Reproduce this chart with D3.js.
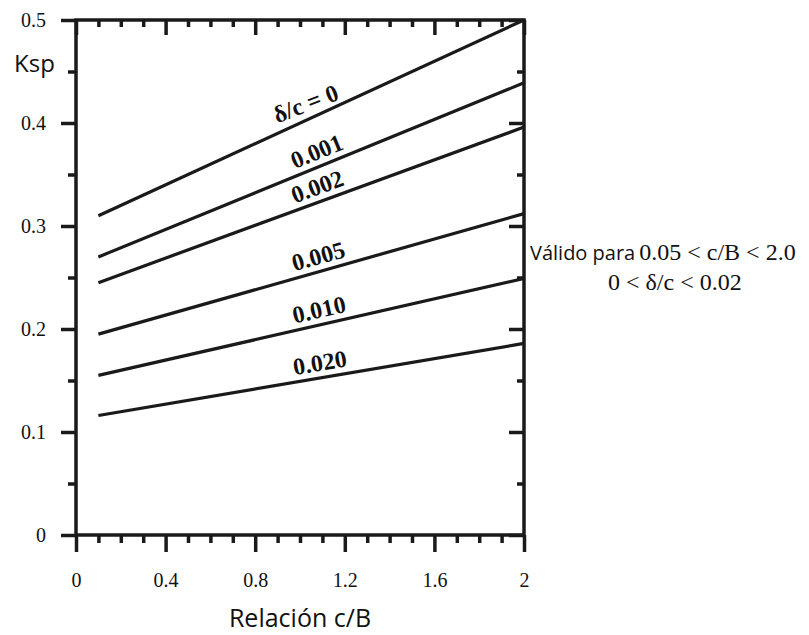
<!DOCTYPE html>
<html>
<head>
<meta charset="utf-8">
<script src="https://cdn.jsdelivr.net/npm/d3@7"></script>
<style>
	body { margin: 0; background: #fff; }
	svg { display: block; }
	.serif { font-family: 'Liberation Serif', 'Times New Roman', serif; fill: #111; }
	.sans { font-family: 'Open Sans', 'Noto Sans', sans-serif; fill: #111; }
</style>
</head>
<body>
<script>
// series: delta/c values, Ksp at c/B = 0.1 and at c/B = 2
const seriesLabels = ['δ/c = 0', '0.001', '0.002', '0.005', '0.010', '0.020'];
const cbRange = [0.1, 2];
const kspStart = [0.31, 0.27, 0.245, 0.195, 0.155, 0.116];
const kspEnd = [0.5, 0.439, 0.396, 0.312, 0.249, 0.186];

const xTicks = [0, 0.4, 0.8, 1.2, 1.6, 2];
const xTickLabels = ['0', '0.4', '0.8', '1.2', '1.6', '2'];
const xMinor = [0.1, 0.2, 0.3, 0.5, 0.6, 0.7, 0.9, 1.0, 1.1, 1.3, 1.4, 1.5, 1.7, 1.8, 1.9];
const yTicks = [0, 0.1, 0.2, 0.3, 0.4, 0.5];
const yTickLabels = ['0', '0.1', '0.2', '0.3', '0.4', '0.5'];
const yMinor = [0.05, 0.15, 0.25, 0.35, 0.45];

var svgSize = {'width': 809, 'height': 635};
var plot = {'left': 76, 'right': 524, 'top': 20, 'bottom': 535};

var svg = d3.select('body').append('svg')
	.attr('width', svgSize.width)
	.attr('height', svgSize.height);

var x = d3.scaleLinear().domain([0, 2]).range([plot.left, plot.right]);
var y = d3.scaleLinear().domain([0, 0.5]).range([plot.bottom, plot.top]);

// axes: ticks only, the frame is drawn as a rect
function styleAxis(g) {
	g.select('.domain').remove();
	g.selectAll('.tick line').attr('stroke', '#1a1a1a').attr('stroke-width', 3.5);
}

svg.append('g')
	.attr('transform', `translate(0, ${plot.bottom})`)
	.call(d3.axisBottom(x).tickValues(xTicks).tickSize(17).tickFormat((d, i) => xTickLabels[i]))
	.call(styleAxis)
	.call(g => g.selectAll('text')
		.attr('class', 'serif')
		.attr('font-size', 20)
		.attr('y', 52)
		.attr('dy', 0)
		.attr('fill', '#111'));

svg.append('g')
	.attr('transform', `translate(0, ${plot.bottom})`)
	.call(d3.axisBottom(x).tickValues(xMinor).tickSize(8).tickFormat(''))
	.call(styleAxis);

svg.append('g')
	.attr('transform', `translate(0, ${plot.top})`)
	.call(d3.axisTop(x).tickValues(xTicks).tickSize(-15).tickFormat(''))
	.call(styleAxis);

svg.append('g')
	.attr('transform', `translate(0, ${plot.top})`)
	.call(d3.axisTop(x).tickValues(xMinor).tickSize(-7).tickFormat(''))
	.call(styleAxis);

svg.append('g')
	.attr('transform', `translate(${plot.left}, 0)`)
	.call(d3.axisLeft(y).tickValues(yTicks).tickSize(15).tickPadding(15).tickFormat((d, i) => yTickLabels[i]))
	.call(styleAxis)
	.call(g => g.selectAll('text')
		.attr('class', 'serif')
		.attr('font-size', 20)
		.attr('fill', '#111'));

svg.append('g')
	.attr('transform', `translate(${plot.left}, 0)`)
	.call(d3.axisLeft(y).tickValues(yMinor).tickSize(8).tickFormat(''))
	.call(styleAxis);

svg.append('g')
	.attr('transform', `translate(${plot.right}, 0)`)
	.call(d3.axisRight(y).tickValues(yTicks).tickSize(-15).tickFormat(''))
	.call(styleAxis);

svg.append('g')
	.attr('transform', `translate(${plot.right}, 0)`)
	.call(d3.axisRight(y).tickValues(yMinor).tickSize(-7).tickFormat(''))
	.call(styleAxis);

svg.append('rect')
	.attr('x', plot.left)
	.attr('y', plot.top)
	.attr('width', plot.right - plot.left)
	.attr('height', plot.bottom - plot.top)
	.attr('fill', 'none')
	.attr('stroke', '#1a1a1a')
	.attr('stroke-width', 3.5);

// curves
var series = seriesLabels.map((label, i) => ({
	label: label,
	points: [[cbRange[0], kspStart[i]], [cbRange[1], kspEnd[i]]]
}));

var line = d3.line().x(d => x(d[0])).y(d => y(d[1]));

svg.append('g')
	.selectAll('path')
	.data(series)
	.enter()
	.append('path')
	.attr('d', d => line(d.points))
	.attr('fill', 'none')
	.attr('stroke', '#1a1a1a')
	.attr('stroke-width', 3.2);

// labels sit on the line, rotated with it
const labelCB = 1.1;
svg.append('g')
	.selectAll('text')
	.data(series)
	.enter()
	.append('text')
	.attr('class', 'serif')
	.attr('font-size', 24)
	.attr('font-weight', 'bold')
	.attr('text-anchor', 'middle')
	.attr('transform', (d, i) => {
		let p0 = d.points[0], p1 = d.points[1];
		let cb = i === 0 ? 1.05 : labelCB;
		let k = p0[1] + (p1[1] - p0[1]) * (cb - p0[0]) / (p1[0] - p0[0]);
		let ang = Math.atan2(y(p1[1]) - y(p0[1]), x(p1[0]) - x(p0[0])) * 180 / Math.PI;
		if (i === 0) ang *= 0.85;
		return `translate(${x(cb)}, ${y(k)}) rotate(${ang})`;
	})
	.attr('dy', -7)
	.text(d => d.label);

// axis titles
svg.append('text')
	.attr('class', 'sans')
	.attr('x', 14)
	.attr('y', 72)
	.attr('font-size', 24)
	.text('Ksp');

svg.append('text')
	.attr('class', 'sans')
	.attr('x', 300)
	.attr('y', 627)
	.attr('text-anchor', 'middle')
	.attr('font-size', 25)
	.text('Relación c/B');

// validity note
var note = svg.append('text')
	.attr('x', 530)
	.attr('y', 260);
note.append('tspan')
	.attr('class', 'sans')
	.attr('font-size', 20)
	.text('Válido para');
note.append('tspan')
	.attr('class', 'serif')
	.attr('font-size', 24)
	.attr('dx', 4)
	.text('0.05 < c/B < 2.0');

svg.append('text')
	.attr('class', 'serif')
	.attr('x', 608)
	.attr('y', 290)
	.attr('font-size', 24)
	.text('0 < δ/c < 0.02');
</script>
</body>
</html>
